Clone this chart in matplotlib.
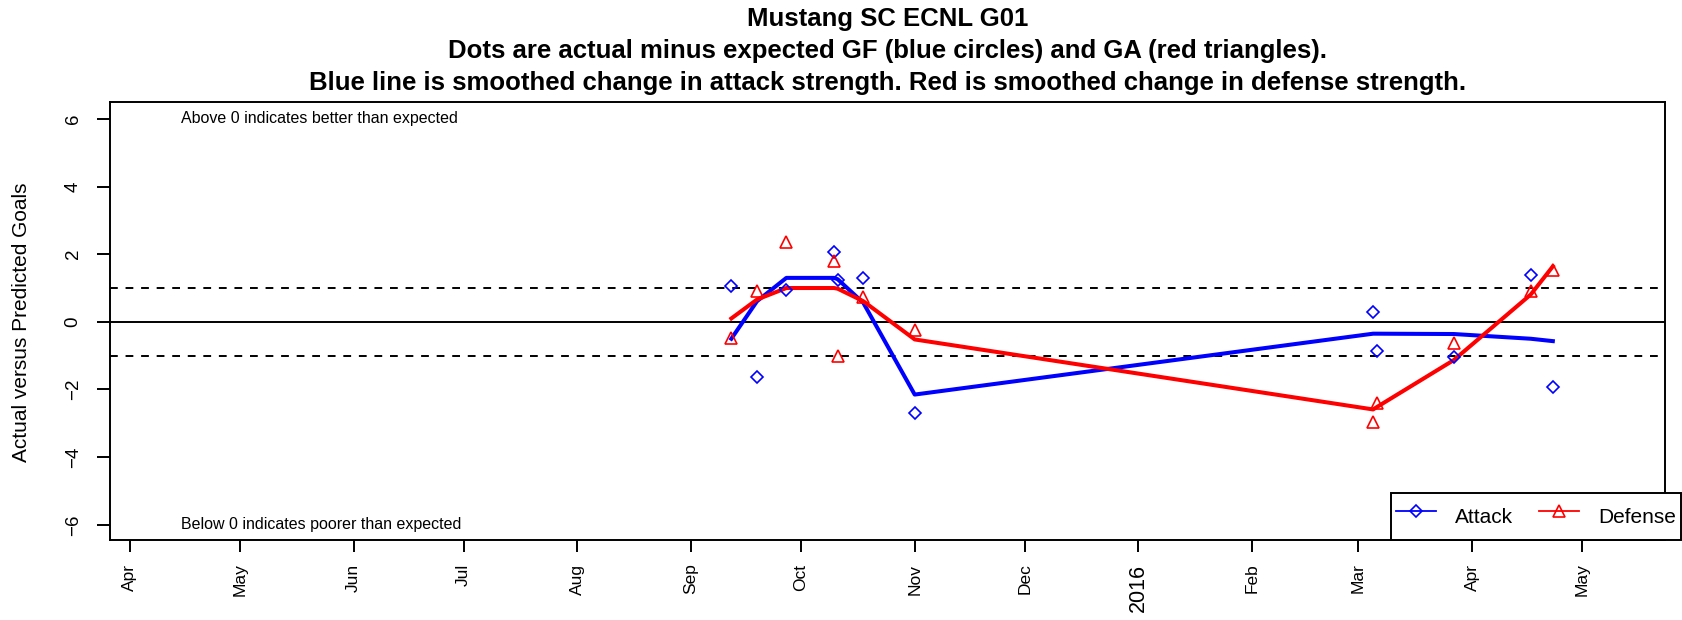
import datetime as dt
import matplotlib
matplotlib.use("Agg")
import matplotlib.pyplot as plt
from matplotlib.lines import Line2D

plt.rcParams['font.family'] = ['Liberation Sans', 'DejaVu Sans']

# game dates
game_dates = ['2015-09-12', '2015-09-19', '2015-09-27', '2015-10-10', '2015-10-11',
              '2015-10-18', '2015-11-01', '2016-03-05', '2016-03-06', '2016-03-27',
              '2016-04-17', '2016-04-23']
# actual minus expected goals for / goals against
attack_pts = [1.07, -1.62, 0.95, 2.06, 1.24, 1.31, -2.69, 0.28, -0.85, -1.03, 1.39, -1.92]
defense_pts = [-0.47, 0.90, 2.35, 1.79, -1.02, 0.74, -0.25, -2.97, -2.39, -0.64, 0.90, 1.52]
# smoothed strength changes
attack_smooth = [-0.50, 0.61, 1.30, 1.30, 1.26, 0.56, -2.15, -0.35, -0.35, -0.36, -0.50, -0.57]
defense_smooth = [0.10, 0.66, 1.00, 1.00, 0.98, 0.61, -0.52, -2.59, -2.52, -1.13, 0.81, 1.64]

month_ticks = ['2015-04-01', '2015-05-01', '2015-06-01', '2015-07-01', '2015-08-01',
               '2015-09-01', '2015-10-01', '2015-11-01', '2015-12-01', '2016-01-01',
               '2016-02-01', '2016-03-01', '2016-04-01', '2016-05-01']
month_labels = ['Apr', 'May', 'Jun', 'Jul', 'Aug', 'Sep', 'Oct', 'Nov', 'Dec', '2016',
                'Feb', 'Mar', 'Apr', 'May']

titles = ['Mustang SC ECNL G01',
          'Dots are actual minus expected GF (blue circles) and GA (red triangles).',
          'Blue line is smoothed change in attack strength. Red is smoothed change in defense strength.']

def to_date(s):
    return dt.datetime.strptime(s, '%Y-%m-%d')

x = [to_date(d) for d in game_dates]
xt = [to_date(d) for d in month_ticks]

W, H = 1682, 620
fig = plt.figure(figsize=(W / 100, H / 100), dpi=100)
L, R, T, B = 110, 1665, 102, 540
ax = fig.add_axes([L / W, 1 - B / H, (R - L) / W, (B - T) / H])

blue = '#0000FF'
red = '#FF0000'

ax.axhline(0, color='black', lw=1.4, zorder=1)
ax.axhline(1, color='black', lw=1.4, ls=(0, (4, 4)), zorder=1)
ax.axhline(-1, color='black', lw=1.4, ls=(0, (4, 4)), zorder=1)

ax.plot(x, attack_pts, ls='none', marker='D', ms=6.5, mfc='none', mec=blue, mew=1.2, zorder=3)
ax.plot(x, defense_pts, ls='none', marker='^', ms=9, mfc='none', mec=red, mew=1.2, zorder=3)
ax.plot(x, attack_smooth, color=blue, lw=2.9, zorder=2)
ax.plot(x, defense_smooth, color=red, lw=2.9, zorder=2)

ax.text(dt.datetime(2015, 4, 15), 6, 'Above 0 indicates better than expected',
        ha='left', va='center', fontsize=11.5)
ax.text(dt.datetime(2015, 4, 15), -6, 'Below 0 indicates poorer than expected',
        ha='left', va='center', fontsize=11.5)

ax.set_xlim(dt.datetime(2015, 3, 26, 14), dt.datetime(2016, 5, 23, 14))
ax.set_ylim(-6.45, 6.5)

ax.set_yticks(range(-6, 7, 2))
ax.tick_params(axis='y', length=9.4, width=1.4, pad=11, labelsize=13.5, labelrotation=90)
for lbl in ax.get_yticklabels():
    lbl.set_va('center')

ax.set_xticks(xt)
ax.set_xticklabels(month_labels, rotation=90)
ax.tick_params(axis='x', length=8.6, width=1.4, pad=8.4, labelsize=12.5)
for lbl in ax.get_xticklabels():
    if lbl.get_text() == '2016':
        lbl.set_fontsize(15.5)

for sp in ax.spines.values():
    sp.set_linewidth(1.4)
    sp.set_color('black')

fig.text(22 / W, 1 - 322 / H, 'Actual versus Predicted Goals', rotation=90,
         ha='center', va='center', fontsize=15)

cx = (L + R) / 2 / W
for ty, t in zip([19.0, 51.0, 83.0], titles):
    fig.text(cx, 1 - ty / H, t, ha='center', va='center', fontsize=18.5, fontweight='bold')

handles = [Line2D([], [], color=blue, lw=1.3, marker='D', ms=6, mfc='none', mew=1.2),
           Line2D([], [], color=red, lw=1.3, marker='^', ms=8, mfc='none', mew=1.2)]
leg = fig.legend(handles, ['Attack', 'Defense'], loc='lower right',
                 bbox_to_anchor=(1681 / W, 1 - B / H), ncol=2, fontsize=15,
                 frameon=True, fancybox=False, borderpad=0.25, handlelength=1.93,
                 handletextpad=0.9, columnspacing=1.23, handleheight=2.3,
                 borderaxespad=0)
leg.get_frame().set_edgecolor('black')
leg.get_frame().set_linewidth(1.4)
leg.get_frame().set_alpha(1)

fig.savefig('out.png', dpi=100)
